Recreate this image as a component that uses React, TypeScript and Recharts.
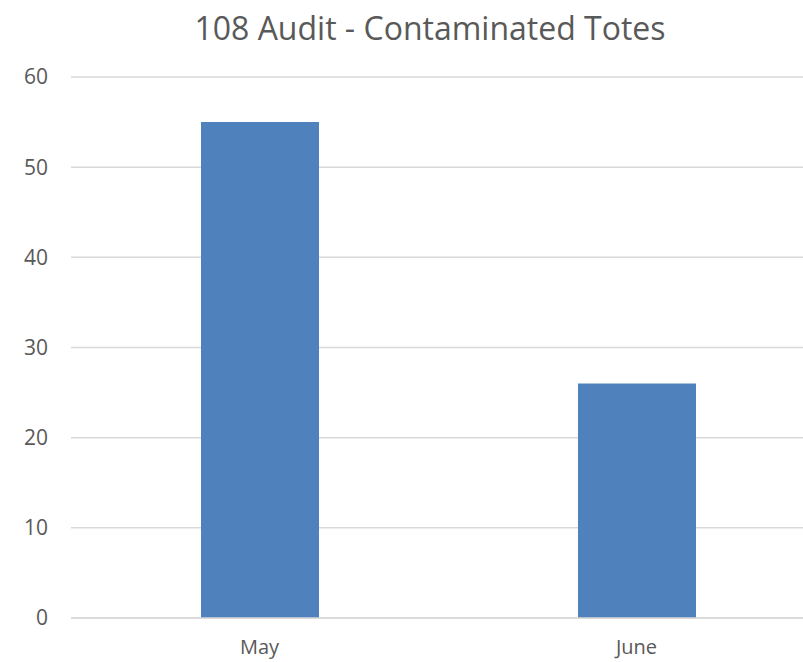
import { Bar, BarChart, CartesianGrid, XAxis, YAxis } from "recharts";

const months = ["May", "June"];
const contaminatedTotes = [55, 26];
const yTicks = [0, 10, 20, 30, 40, 50, 60];

const data = months.map((month, i) => ({ month, totes: contaminatedTotes[i] }));

const FONT = "'Open Sans', sans-serif";
const TEXT = "#595959";
const GRID = "#d9d9d9";

export default function App() {
  return (
    <div
      style={{
        position: "absolute",
        top: 0,
        left: 0,
        width: 803,
        height: 662,
        overflow: "hidden",
        background: "#fff",
        fontFamily: FONT,
      }}
    >
      <div
        style={{
          position: "absolute",
          top: 0,
          left: 430 - 300,
          width: 600,
          textAlign: "center",
          fontSize: 32,
          lineHeight: "56px",
          color: TEXT,
        }}
      >
        108 Audit - Contaminated Totes
      </div>
      <BarChart
        width={830}
        height={662}
        data={data}
        margin={{ top: 77, right: 5, bottom: 14, left: 0 }}
        barSize={118}
      >
        <CartesianGrid vertical={false} stroke={GRID} strokeWidth={1.5} />
        <XAxis
          dataKey="month"
          height={30}
          axisLine={{ stroke: GRID, strokeWidth: 1.5 }}
          tickLine={false}
          tickSize={0}
          tickMargin={22}
          tick={{ fill: TEXT, fontSize: 20, fontFamily: FONT }}
        />
        <YAxis
          width={71}
          domain={[0, 60]}
          ticks={yTicks}
          axisLine={false}
          tickLine={false}
          tickSize={0}
          tickMargin={23}
          tick={{ fill: TEXT, fontSize: 21, fontFamily: FONT }}
        />
        <Bar dataKey="totes" fill="#4f81bd" isAnimationActive={false} />
      </BarChart>
    </div>
  );
}
